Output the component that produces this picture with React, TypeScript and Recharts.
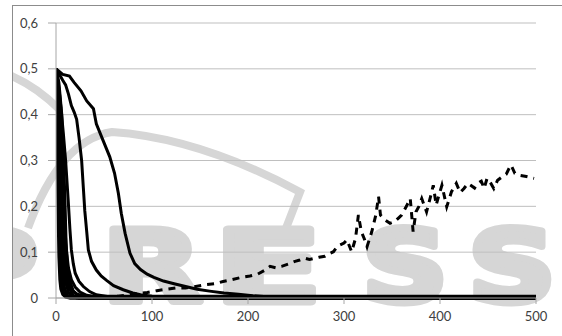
import { LineChart, Line, XAxis, YAxis, CartesianGrid } from "recharts"

type Pt = { x: number; y: number }
const pts = (rows: number[][]): Pt[] => rows.map(([x, y]) => ({ x, y }))

const xTicks = [0, 100, 200, 300, 400, 500]
const yTicks = [0, 0.1, 0.2, 0.3, 0.4, 0.5, 0.6]

// slowest decay curve
const curveA = pts([
  [0, 0.5], [3, 0.495], [7, 0.488], [14, 0.484], [19, 0.47], [26, 0.452], [32, 0.43],
  [39, 0.413], [42, 0.38], [49, 0.344], [56, 0.308], [61, 0.272], [65, 0.228], [68, 0.185],
  [72, 0.141], [77, 0.098], [82, 0.075], [88, 0.062], [95, 0.052], [102, 0.045], [112, 0.037],
  [123, 0.031], [135, 0.025], [147, 0.019], [160, 0.015], [175, 0.011], [190, 0.008],
  [205, 0.005], [220, 0.003], [240, 0.001], [260, 0], [500, 0],
])
const curveB = pts([
  [0, 0.5], [3, 0.49], [7, 0.475], [10, 0.465], [13, 0.445], [16, 0.42], [19, 0.405],
  [21.5, 0.39], [24, 0.35], [26.7, 0.3], [28.5, 0.24], [30, 0.19], [32, 0.145], [33.7, 0.105],
  [37, 0.08], [42, 0.061], [47, 0.048], [53, 0.038], [60, 0.027], [70, 0.018], [80, 0.011],
  [88, 0.007], [100, 0.004], [115, 0.002], [140, 0], [500, 0],
])
const curveC = pts([
  [0, 0.5], [1.5, 0.48], [4, 0.44], [7.6, 0.36], [10, 0.3], [12.8, 0.21], [14.5, 0.15],
  [16, 0.105], [18, 0.075], [20, 0.054], [24, 0.036], [28.5, 0.025], [35, 0.014], [42, 0.007],
  [55, 0.003], [70, 0.003], [500, 0.003],
])
const curveD = pts([
  [0, 0.5], [1, 0.47], [3, 0.4], [5, 0.32], [7, 0.24], [9, 0.16], [11, 0.1], [13, 0.065],
  [16, 0.04], [20, 0.024], [25, 0.013], [32, 0.006], [45, 0.001], [60, 0], [500, 0],
])
const curveE = pts([
  [0, 0.5], [1, 0.45], [2.5, 0.36], [4, 0.26], [5.5, 0.17], [7, 0.1], [9, 0.06], [12, 0.035],
  [16, 0.018], [22, 0.008], [30, 0.004], [40, 0.004], [500, 0.004],
])
// the dense bundle of fast curves
const fast1 = pts([[0, 0.5], [0.5, 0.45], [1, 0.38], [1.5, 0.3], [2, 0.22], [2.5, 0.15], [3, 0.09], [4, 0.04], [5, 0.02], [7, 0.008], [10, 0.002], [14, 0], [500, 0]])
const fast2 = pts([[0, 0.5], [1, 0.44], [2, 0.34], [3, 0.22], [4, 0.12], [5, 0.06], [6, 0.03], [8, 0.012], [11, 0.004], [15, 0], [500, 0]])
const fast3 = pts([[0, 0.5], [1.5, 0.45], [3, 0.36], [4, 0.27], [5, 0.18], [6, 0.1], [7, 0.055], [9, 0.02], [12, 0.006], [16, 0.002], [500, 0.002]])
const fast4 = pts([[0, 0.5], [2, 0.46], [4, 0.38], [5.5, 0.28], [6.5, 0.2], [7.5, 0.12], [8.5, 0.07], [10, 0.035], [13, 0.012], [17, 0.003], [22, 0], [500, 0]])
const fast5 = pts([[0, 0.5], [2.5, 0.47], [5, 0.4], [7, 0.3], [8, 0.22], [9, 0.14], [10, 0.08], [11.5, 0.045], [14, 0.02], [18, 0.006], [24, 0], [500, 0]])
const fast6 = pts([[0, 0.5], [3, 0.47], [6, 0.4], [8, 0.3], [9.5, 0.2], [10.5, 0.12], [12, 0.07], [14, 0.04], [18, 0.015], [24, 0.004], [30, 0], [500, 0]])

// rising noisy series (dashed)
const rising = pts([
  [50, 0.002], [65, 0.004], [80, 0.008], [95, 0.012], [105, 0.016], [115, 0.019], [125, 0.022],
  [135, 0.022], [143, 0.024], [156, 0.029], [165, 0.031], [174, 0.036], [183, 0.04], [193, 0.045],
  [202, 0.048], [210, 0.052], [217, 0.06], [223, 0.069], [229, 0.066], [235, 0.069], [242, 0.074],
  [249, 0.08], [254, 0.083], [259, 0.087], [264, 0.084], [268, 0.086], [274, 0.089], [280, 0.091],
  [285, 0.097], [289, 0.101], [293, 0.112], [296, 0.116], [300, 0.12], [303, 0.127], [308, 0.101],
  [312, 0.13], [315, 0.181], [318, 0.145], [321, 0.13], [324, 0.112], [329, 0.145], [333, 0.18],
  [336, 0.221], [338, 0.181], [343, 0.17], [348, 0.163], [353, 0.167], [357, 0.175], [360, 0.181],
  [365, 0.2], [369, 0.217], [372, 0.145], [375, 0.188], [378, 0.2], [381, 0.217], [386, 0.188],
  [390, 0.22], [393, 0.246], [396, 0.203], [399, 0.225], [402, 0.246], [407, 0.199], [412, 0.232],
  [417, 0.25], [421, 0.23], [425, 0.239], [429, 0.25], [432, 0.246], [436, 0.24], [439, 0.25],
  [443, 0.255], [446, 0.239], [449, 0.261], [453, 0.25], [456, 0.239], [460, 0.257], [465, 0.265],
  [469, 0.27], [472, 0.283], [474, 0.29], [478, 0.272], [482, 0.268], [490, 0.265], [498, 0.261],
])

const solidCurves = [fast1, fast2, fast3, fast4, fast5, fast6, curveE, curveD, curveC, curveB, curveA]

// watermark letters: [letter, left, width]
const markLetters: [string, number, number][] = [
  ["P", -50, 88], ["R", 102, 100], ["E", 214, 108], ["S", 362, 86], ["S", 468, 88],
]

const fmt = (v: number) => (v === 0 ? "0" : v.toFixed(1).replace(".", ","))
const tickStyle = { fontFamily: "Lato, 'Open Sans', sans-serif", fontSize: 13, fill: "#404040" }
const markGray = "#d6d6d6"

export default function App() {
  return (
    <div
      style={{
        position: "absolute",
        left: 12,
        top: 5,
        width: 552,
        height: 333,
        borderLeft: "1px solid #8c8c8c",
        borderTop: "1px solid #8c8c8c",
        background: "#fff",
        overflow: "hidden",
      }}
    >
      {/* faint publisher watermark, page coordinates */}
      <svg width={562} height={336} style={{ position: "absolute", left: -13, top: -6 }}>
        <path d="M -5 70 Q 30 80 60 110" stroke={markGray} strokeWidth={8} fill="none" />
        <path d="M 28 228 Q 60 140 112 132 Q 200 138 300 192 L 283 236" stroke={markGray} strokeWidth={8} fill="none" />
        {markLetters.map(([ch, x, w], i) => (
          <text
            key={i}
            x={x}
            y={302}
            fontFamily="'DejaVu Sans', sans-serif"
            fontWeight={700}
            fontSize={100}
            fill={markGray}
            stroke={markGray}
            strokeWidth={7}
            strokeLinejoin="round"
            textLength={w}
            lengthAdjust="spacingAndGlyphs"
          >
            {ch}
          </text>
        ))}
      </svg>
      <div style={{ position: "absolute", left: -1, top: -1 }}>
        <LineChart width={550} height={331} margin={{ top: 18, right: 26, left: 0, bottom: 0 }}>
          <CartesianGrid vertical={false} stroke="#bfbfbf" />
          <XAxis
            type="number"
            dataKey="x"
            domain={[0, 500]}
            ticks={xTicks}
            tick={tickStyle}
            tickSize={6}
            tickMargin={8}
            height={38}
            stroke="#a6a6a6"
            allowDataOverflow
          />
          <YAxis
            type="number"
            domain={[0, 0.6]}
            ticks={yTicks}
            tickFormatter={fmt}
            tick={tickStyle}
            tickSize={8}
            tickMargin={10}
            width={44}
            stroke="#a6a6a6"
          />
          {solidCurves.map((d, i) => (
            <Line
              key={i}
              data={d}
              dataKey="y"
              type="linear"
              stroke="#000"
              strokeWidth={3}
              dot={false}
              isAnimationActive={false}
            />
          ))}
          <Line
            data={rising}
            dataKey="y"
            type="linear"
            stroke="#000"
            strokeWidth={3}
            strokeDasharray="7 6"
            dot={false}
            isAnimationActive={false}
          />
        </LineChart>
      </div>
    </div>
  )
}
